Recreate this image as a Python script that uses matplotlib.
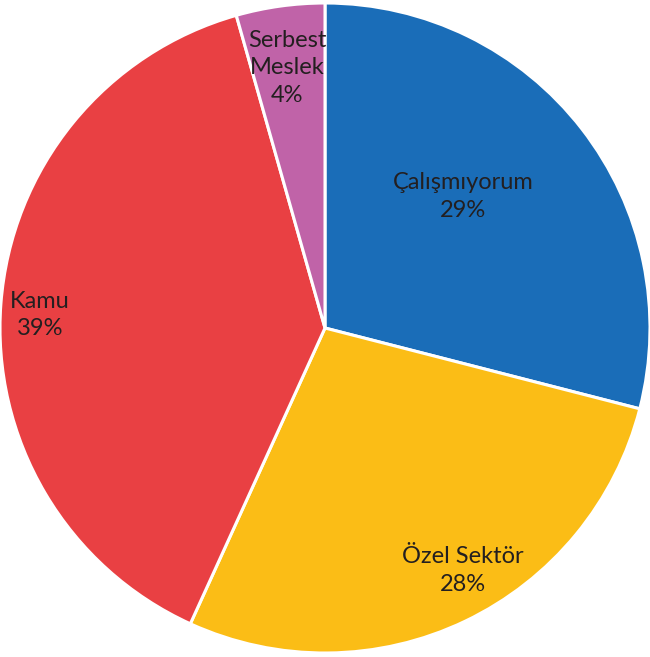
import matplotlib
matplotlib.use('Agg')
import matplotlib.pyplot as plt

# Veriler (yüzde)
labels = ['Çalışmıyorum', 'Özel Sektör', 'Kamu', 'Serbest\nMeslek']
values = [29.0, 27.8, 38.8, 4.4]
colors = ['#1a6db8', '#fbbd16', '#e94043', '#c063a8']
# etiket merkezleri (pasta yarıçapı birimiyle)
label_xy = [(0.425, 0.405), (0.425, -0.745), (-0.877, 0.04), (-0.117, 0.80)]

plt.rcParams['font.family'] = ['Lato', 'DejaVu Sans']

fig = plt.figure(figsize=(6.5, 6.57), dpi=100)
ax = fig.add_axes([0, 0, 1, 1])

wedges, _ = ax.pie(values, colors=colors, startangle=90, counterclock=False,
                   radius=1, wedgeprops=dict(edgecolor='white', linewidth=2.2))

total = sum(values)
for lab, v, (x, y) in zip(labels, values, label_xy):
    ax.text(x, y, f'{lab}\n{round(v / total * 100)}%', ha='center', va='center',
            fontsize=17, color='#231f20', linespacing=1.4)

ax.set_xlim(-1.0, 1.0)
ax.set_ylim(-329 / 325, 328 / 325)
ax.set_aspect('auto')
ax.axis('off')

fig.savefig('out.png', dpi=100, facecolor='white')
